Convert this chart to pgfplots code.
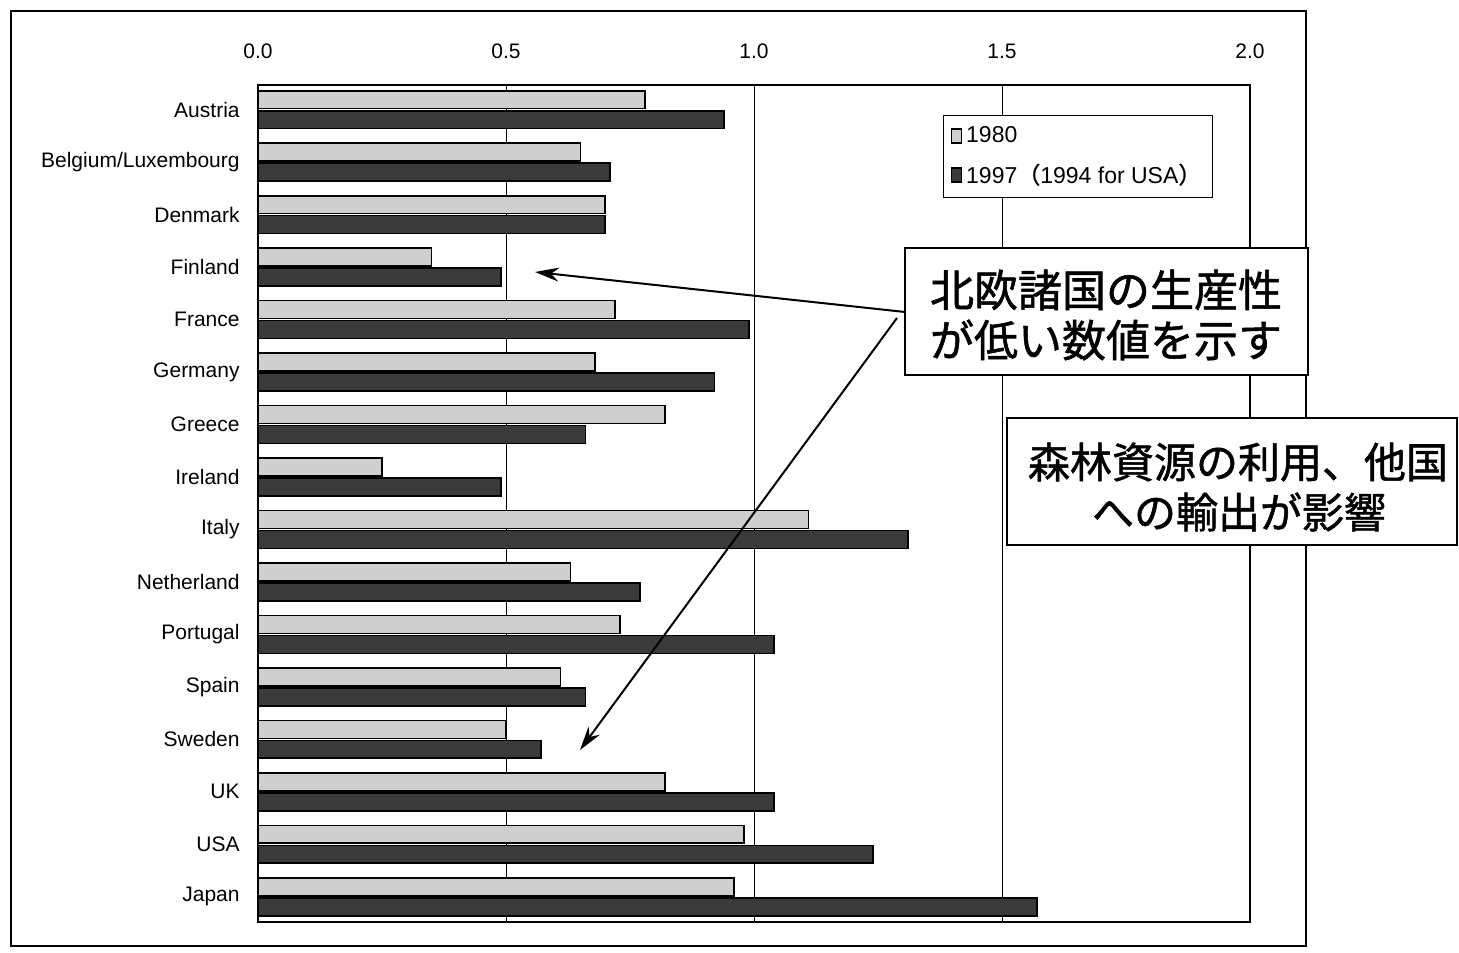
\documentclass[border=0pt]{standalone}
\usepackage{fontspec}
\setmainfont{Liberation Sans}
\newfontfamily\cjk{Noto Sans CJK JP}[FakeBold=1.2]
\usepackage{pgfplots}
\usepackage{pgfplotstable}
\pgfplotsset{compat=1.18}
\usetikzlibrary{arrows.meta}
\pgfplotsset{sqlegend/.style={legend image code/.code={\draw[##1] (0pt,-3.5pt) rectangle (5pt,3.5pt);}}}

\pgfplotstableread{
idx v1980 v1997
0 0.78 0.94
1 0.65 0.71
2 0.70 0.70
3 0.35 0.49
4 0.72 0.99
5 0.68 0.92
6 0.82 0.66
7 0.25 0.49
8 1.11 1.31
9 0.63 0.77
10 0.73 1.04
11 0.61 0.66
12 0.50 0.57
13 0.82 1.04
14 0.98 1.24
15 0.96 1.57
}\datatable

\definecolor{lightbar}{HTML}{CFCFCF}
\definecolor{darkbar}{HTML}{3A3A3A}

\begin{document}
\begin{tikzpicture}[x=0.5pt,y=0.5pt]
\useasboundingbox (0,0) rectangle (1459,952);
% outer frame
\draw[line width=1pt] (11,941) rectangle (1306,6);
\begin{axis}[
  at={(129pt,433.5pt)}, anchor=north west,
  width=496pt, height=418.5pt, scale only axis,
  xbar, bar width=0.34,
  xmin=0, xmax=2, ymin=-0.47, ymax=15.48, y dir=reverse,
  xtick={0,0.5,1,1.5,2}, xticklabel pos=upper,
  xmajorgrids, grid style={black, line width=0.5pt},
  ytick={0,...,15},
  yticklabels={Austria,Belgium/Luxembourg,Denmark,Finland,France,Germany,Greece,Ireland,Italy,Netherland,Portugal,Spain,Sweden,UK,USA,Japan},
  major tick length=0pt,
  axis line style={line width=0.8pt},
  tick label style={font=\fontsize{10.5}{12}\selectfont},
  yticklabel style={inner sep=0pt, xshift=-9pt},
  xticklabel style={inner sep=0pt, yshift=13pt, /pgf/number format/.cd, fixed, fixed zerofill, precision=1, assume math mode=true},
  legend style={at={(axis description cs:0.6905,0.964)}, anchor=north west, draw=black, line width=0.6pt,
    font=\fontsize{11.5}{13}\selectfont, row sep=5pt, inner sep=3.5pt, cells={anchor=west}},
]
\addplot[fill=lightbar, draw=black, line width=0.8pt, bar shift=-0.19, sqlegend]
  table[x=v1980, y=idx] {\datatable};
\addplot[fill=darkbar, draw=black, line width=0.8pt, bar shift=0.19, sqlegend]
  table[x=v1997, y=idx] {\datatable};
\legend{1980, 1997{\cjk （}1994 for USA{\cjk ）}}
\end{axis}
% arrows
\draw[-{Stealth[length=12pt,width=7pt]}, line width=1pt] (905,640) -- (535,680);
\draw[-{Stealth[length=12pt,width=7pt]}, line width=1pt] (897,634) -- (580,202);
% callout boxes
\draw[fill=white, line width=1pt] (905,704) rectangle (1308,577);
\node[font=\cjk\fontsize{22}{25}\selectfont] at (1106,662) {北欧諸国の生産性};
\node[font=\cjk\fontsize{22}{25}\selectfont] at (1106,612) {が低い数値を示す};
\draw[fill=white, line width=1pt] (1007,534) rectangle (1457,407);
\node[font=\cjk\fontsize{21}{25}\selectfont] at (1238,490) {森林資源の利用、他国};
\node[font=\cjk\fontsize{21}{25}\selectfont] at (1239,440) {への輸出が影響};
\end{tikzpicture}
\end{document}
